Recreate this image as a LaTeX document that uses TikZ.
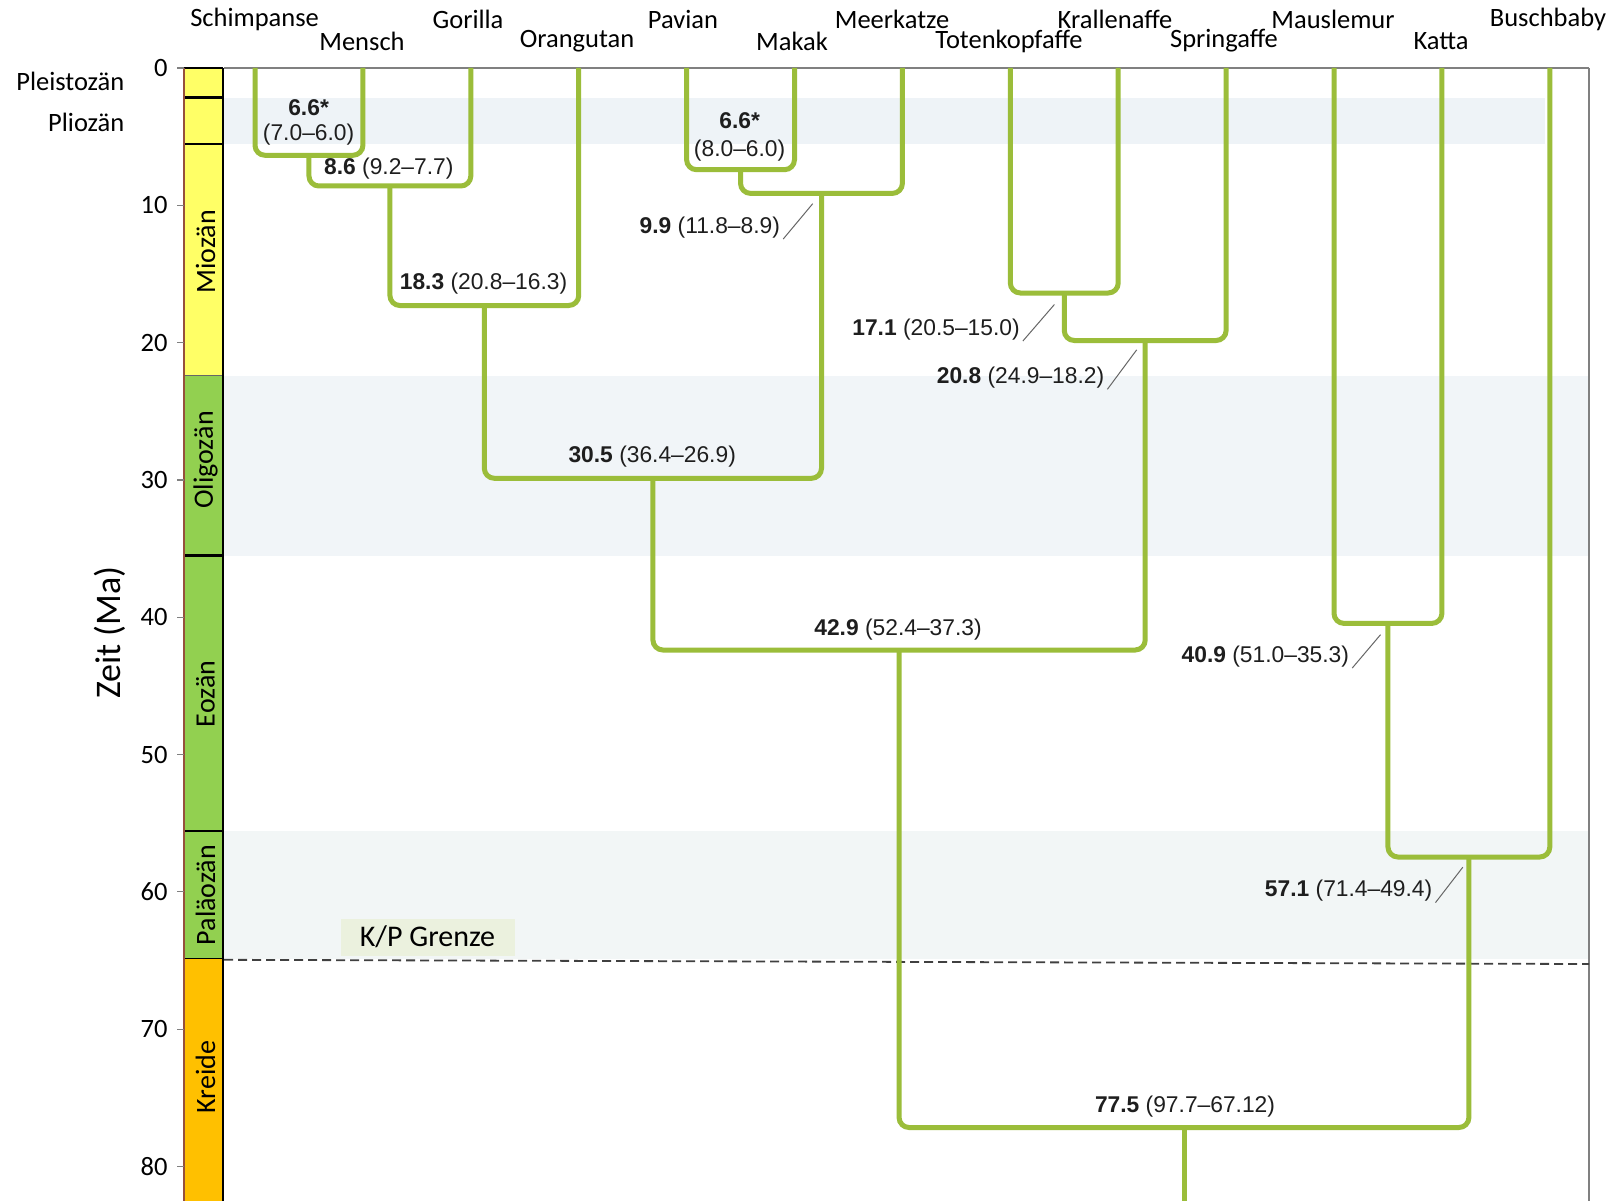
\documentclass[tikz,border=0pt]{standalone}
\usepackage{fontspec}
\setmainfont{Carlito}
\newfontfamily\labfont{Liberation Sans}
\usetikzlibrary{calc}
\definecolor{branchgreen}{RGB}{155,189,58}
\definecolor{labgray}{RGB}{30,30,30}
\definecolor{bandA}{RGB}{238,243,247}
\definecolor{bandB}{RGB}{241,245,248}
\definecolor{bandC}{RGB}{242,246,246}
\definecolor{kpfill}{RGB}{235,241,222}
\definecolor{epyellow}{RGB}{255,255,102}
\definecolor{epgreen}{RGB}{146,208,80}
\definecolor{eporange}{RGB}{255,192,0}
\definecolor{axisbrown}{RGB}{150,80,60}
\begin{document}
\begin{tikzpicture}[x=1pt,y=-1pt,
  branch/.style={draw=branchgreen,line width=5pt,rounded corners=10pt},
  taxon/.style={font=\fontsize{26.5}{30}\selectfont,inner sep=0pt,text=black},
  lbl/.style={font=\labfont\fontsize{22.8}{25}\selectfont,inner sep=1pt,text=labgray},
  leader/.style={draw=gray!80!black,line width=1pt},
  ticklab/.style={font=\fontsize{26.5}{30}\selectfont,inner sep=0pt,anchor=east},
  tickmark/.style={draw=gray,line width=1.2pt},
  epoch/.style={font=\fontsize{28}{30}\selectfont,inner sep=0pt,rotate=90},
  epochside/.style={font=\fontsize{26.5}{30}\selectfont,inner sep=0pt,anchor=east}]
\path[use as bounding box,fill=white] (0,0) rectangle (1613,1201);
% faint bands
\fill[bandA] (224,97.7) rectangle (1545,144);
\fill[bandB] (224,375.5) rectangle (1589,555.5);
\fill[bandC] (224,831) rectangle (1589,959);
% frame lines
\draw[gray,line width=1.5pt] (224,68) -- (1589,68);
\draw[gray,line width=1.2pt] (1589,68) -- (1589,1201);
% K/P boundary
\draw[black!75,line width=1.8pt,dash pattern=on 9pt off 5pt] (224,959.8) -- (1589,964);
\node[fill=kpfill,minimum width=174pt,minimum height=37pt,inner sep=0pt,font=\fontsize{30}{32}\selectfont] (kp) at (427.5,937) {K/P Grenze};
% taxa coordinates
\coordinate (tS) at (255,68);
\coordinate (tM) at (362.9,68);
\coordinate (tG) at (470.8,68);
\coordinate (tO) at (578.7,68);
\coordinate (tP) at (686.6,68);
\coordinate (tMk) at (794.5,68);
\coordinate (tMz) at (902.4,68);
\coordinate (tT) at (1010.3,68);
\coordinate (tK) at (1118.2,68);
\coordinate (tSp) at (1226.1,68);
\coordinate (tMl) at (1334,68);
\coordinate (tKa) at (1441.9,68);
\coordinate (tB) at (1549.8,68);
% internal nodes
\coordinate (nSM) at (308.95,155.3);
\coordinate (nSMG) at (389.9,186);
\coordinate (nHom) at (484.3,305.5);
\coordinate (nPM) at (740.55,169.7);
\coordinate (nCer) at (821.5,193.4);
\coordinate (nCat) at (652.9,478.3);
\coordinate (nTK) at (1064.25,293);
\coordinate (nPla) at (1145.2,340.5);
\coordinate (nAnt) at (899.05,650);
\coordinate (nLem) at (1387.95,623.4);
\coordinate (nStr) at (1468.9,857);
\coordinate (nRoot) at (1184,1127.5);
\coordinate (rootEnd) at (1184,1201);
% branches
\draw[branch] (tS) |- (nSM) -| (tM);
\draw[branch] (nSM) |- (nSMG) -| (tG);
\draw[branch] (nSMG) |- (nHom) -| (tO);
\draw[branch] (tP) |- (nPM) -| (tMk);
\draw[branch] (nPM) |- (nCer) -| (tMz);
\draw[branch] (nHom) |- (nCat) -| (nCer);
\draw[branch] (tT) |- (nTK) -| (tK);
\draw[branch] (nTK) |- (nPla) -| (tSp);
\draw[branch] (nCat) |- (nAnt) -| (nPla);
\draw[branch] (tMl) |- (nLem) -| (tKa);
\draw[branch] (nLem) |- (nStr) -| (tB);
\draw[branch] (nAnt) |- (nRoot) -| (nStr);
\draw[branch] (nRoot) -- (rootEnd);
% taxon names
\node[taxon] (nmS) at (254.6,19.5) {Schimpanse};
\node[taxon] (nmM) at (362,41) {Mensch};
\node[taxon] (nmG) at (468,19.5) {Gorilla};
\node[taxon] (nmO) at (577,41) {Orangutan};
\node[taxon] (nmP) at (683,19.5) {Pavian};
\node[taxon] (nmMk) at (792,41) {Makak};
\node[taxon] (nmMz) at (892,19.5) {Meerkatze};
\node[taxon] (nmT) at (1009,41) {Totenkopfaffe};
\node[taxon] (nmK) at (1115,19.5) {Krallenaffe};
\node[taxon] (nmSp) at (1224,41) {Springaffe};
\node[taxon] (nmMl) at (1333,19.5) {Mauslemur};
\node[taxon] (nmKa) at (1441,41) {Katta};
\node[taxon] (nmB) at (1548,19.5) {Buschbaby};
% node labels
\node[lbl] (lSMa) at (308.6,108) {\textbf{6.6*}};
\node[lbl] (lSMb) at (308.6,135) {(7.0–6.0)};
\node[lbl] (lSMG) at (388.8,168.7) {\textbf{8.6} (9.2–7.7)};
\node[lbl] (lHom) at (483.5,284) {\textbf{18.3} (20.8–16.3)};
\node[lbl] (lPMa) at (739.6,120.4) {\textbf{6.6*}};
\node[lbl] (lPMb) at (739.6,150.2) {(8.0–6.0)};
\node[lbl] (lCer) at (709.8,227.3) {\textbf{9.9} (11.8–8.9)};
\node[lbl] (lCat) at (652.2,456.7) {\textbf{30.5} (36.4–26.9)};
\node[lbl] (lTK) at (936,329.2) {\textbf{17.1} (20.5–15.0)};
\node[lbl] (lPla) at (1020.5,377.5) {\textbf{20.8} (24.9–18.2)};
\node[lbl] (lAnt) at (898,629.6) {\textbf{42.9} (52.4–37.3)};
\node[lbl] (lLem) at (1265.3,656.3) {\textbf{40.9} (51.0–35.3)};
\node[lbl] (lStr) at (1348.6,890.8) {\textbf{57.1} (71.4–49.4)};
\node[lbl] (lRoot) at (1185,1107) {\textbf{77.5} (97.7–67.12)};
% leaders
\coordinate (kCer) at (812.7,203.7);
\coordinate (kTK) at (1054.4,304.5);
\coordinate (kPla) at (1136.7,349.8);
\coordinate (kLem) at (1380.5,634.7);
\coordinate (kStr) at (1462.8,867.2);
\draw[leader] ([xshift=2pt]lCer.south east) -- (kCer);
\draw[leader] ([xshift=2pt]lTK.south east) -- (kTK);
\draw[leader] ([xshift=2pt]lPla.south east) -- (kPla);
\draw[leader] ([xshift=2pt]lLem.south east) -- (kLem);
\draw[leader] ([xshift=2pt]lStr.south east) -- (kStr);
% geological bar
\fill[epyellow] (184,68) rectangle (223,375.5);
\fill[epgreen] (184,375.5) rectangle (223,958.8);
\fill[eporange] (184,958.8) rectangle (223,1201);
\draw[black,line width=2.4pt] (184,97.7) -- (223,97.7);
\draw[black,line width=2.4pt] (184,144) -- (223,144);
\draw[black!60,line width=0.8pt] (184,375.5) -- (223,375.5);
\draw[black,line width=2.4pt] (184,555.5) -- (223,555.5);
\draw[black,line width=1.3pt] (184,831) -- (223,831);
\draw[black,line width=1.3pt] (184,958.8) -- (223,958.8);
\draw[black,line width=1.2pt] (223,68) -- (223,1201);
\draw[black,line width=1.2pt] (184,68) -- (223,68);
\draw[axisbrown,line width=1.5pt] (184,68) -- (184,1201);
\node[epoch] (eMio) at (205.5,252) {Miozän};
\node[epoch] (eOli) at (205.5,460) {Oligozän};
\node[epoch] (eEoz) at (205.5,694) {Eozän};
\node[epoch] (ePal) at (205.5,895) {Paläozän};
\node[epoch] (eKre) at (205.5,1077) {Kreide};
\node[epochside] (ePle) at (124.5,81.3) {Pleistozän};
\node[epochside] (ePli) at (124.5,122.4) {Pliozän};
% axis ticks
\foreach \t/\yy in {0/68,10/205.3,20/342.6,30/479.9,40/617.2,50/754.5,60/891.8,70/1029.1,80/1166.4}{
  \draw[tickmark] (177,\yy) -- (184,\yy);
  \node[ticklab] (tick\t) at (167.7,\yy) {\t};
}
\node[font=\fontsize{36}{40}\selectfont,rotate=90,inner sep=0pt] (zeit) at (110,632.6) {Zeit (Ma)};
\end{tikzpicture}
\end{document}
